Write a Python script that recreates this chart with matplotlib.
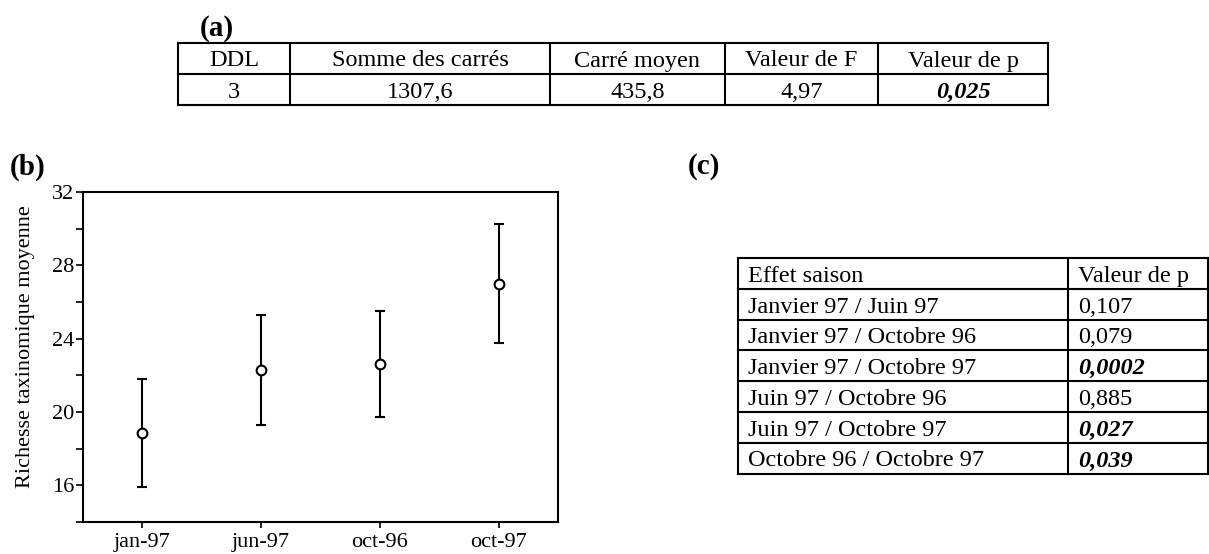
import numpy as np
import matplotlib.pyplot as plt
from matplotlib.ticker import MultipleLocator

plt.rcParams['font.family'] = ['Liberation Serif', 'DejaVu Serif']

# (a) ANOVA table
anova_header = ['DDL', 'Somme des carrés', 'Carré moyen', 'Valeur de F', 'Valeur de p']
anova_row = ['3', '1307,6', '435,8', '4,97', '0,025']
anova_signif = [False, False, False, False, True]

# (b) mean taxonomic richness per season
seasons = ['jan-97', 'jun-97', 'oct-96', 'oct-97']
richness_mean = [18.85, 22.3, 22.6, 27.0]
richness_err = [2.95, 3.0, 2.9, 3.25]

# (c) pairwise comparisons
pair_header = ['Effet saison', 'Valeur de p']
pairs = ['Janvier 97 / Juin 97', 'Janvier 97 / Octobre 96', 'Janvier 97 / Octobre 97',
         'Juin 97 / Octobre 96', 'Juin 97 / Octobre 97', 'Octobre 96 / Octobre 97']
pair_p = ['0,107', '0,079', '0,0002', '0,885', '0,027', '0,039']
pair_signif = [False, False, True, False, True, True]

W, H = 1209, 554
fig = plt.figure(figsize=(W / 100, H / 100), dpi=100)

# overlay in pixel units for the tables and panel letters
ov = fig.add_axes([0, 0, 1, 1])
ov.set_xlim(0, W)
ov.set_ylim(H, 0)
ov.axis('off')

tfs = 17.5
lw = 1.5


def grid(col_x, row_y):
    for y in row_y:
        ov.plot([col_x[0], col_x[-1]], [y, y], color='black', lw=lw, solid_capstyle='projecting')
    for x in col_x:
        ov.plot([x, x], [row_y[0], row_y[-1]], color='black', lw=lw, solid_capstyle='projecting')


def cell_text(txt, x, y, ha, bold=False):
    ov.text(x, y, txt, fontsize=tfs, ha=ha, va='baseline',
            fontweight='bold' if bold else 'normal',
            fontstyle='italic' if bold else 'normal')


# ---- table (a)
a_cols = np.array([178, 290, 550, 725, 878, 1048])
a_rows = np.array([42.5, 73.5, 104.5])
grid(a_cols, a_rows)
a_mid = (a_cols[:-1] + a_cols[1:]) / 2
for i in range(len(anova_header)):
    cell_text(anova_header[i], a_mid[i], a_rows[1] - 7, 'center')
    cell_text(anova_row[i], a_mid[i], a_rows[2] - 7, 'center', anova_signif[i])
ov.text(200, 29, '(a)', fontsize=21, fontweight='bold', ha='left', va='center')

# ---- table (c)
c_cols = np.array([738, 1068, 1208])
c_rows = np.linspace(258, 473.5, len(pairs) + 2)
grid(c_cols, c_rows)
cell_text(pair_header[0], c_cols[0] + 10, c_rows[1] - 7, 'left')
cell_text(pair_header[1], c_cols[1] + 10, c_rows[1] - 7, 'left')
for i in range(len(pairs)):
    cell_text(pairs[i], c_cols[0] + 10, c_rows[i + 2] - 7, 'left')
    cell_text(pair_p[i], c_cols[1] + 10, c_rows[i + 2] - 7, 'left', pair_signif[i])
ov.text(688, 166, '(c)', fontsize=21, fontweight='bold', ha='left', va='center')
ov.text(10, 167, '(b)', fontsize=21, fontweight='bold', ha='left', va='center')

# ---- plot (b)
ax = fig.add_axes([83 / W, 1 - 522 / H, (558 - 83) / W, (522 - 192) / H])
x = np.arange(len(seasons))
ax.errorbar(x, richness_mean, yerr=richness_err, fmt='o', color='black', ecolor='black',
            elinewidth=1.5, capsize=3.5, capthick=1.5, markersize=7,
            markerfacecolor='white', markeredgecolor='black', markeredgewidth=1.5)
ax.set_xlim(-0.5, 3.5)
ax.set_ylim(14, 32)
ax.set_xticks(x)
ax.set_xticklabels(seasons)
ax.yaxis.set_major_locator(MultipleLocator(4))
ax.yaxis.set_minor_locator(MultipleLocator(2))
ax.set_yticks([16, 20, 24, 28, 32])
ax.tick_params(axis='both', which='both', direction='out', width=1.2, labelsize=16)
ax.tick_params(axis='y', which='both', length=5, pad=1.5)
ax.tick_params(axis='x', which='major', length=4, pad=4)
for s in ax.spines.values():
    s.set_linewidth(1.5)
ax.set_ylabel('Richesse taxinomique moyenne', fontsize=16)
ax.yaxis.set_label_coords(-0.101, 0.532)

fig.savefig('out.png', dpi=100)
